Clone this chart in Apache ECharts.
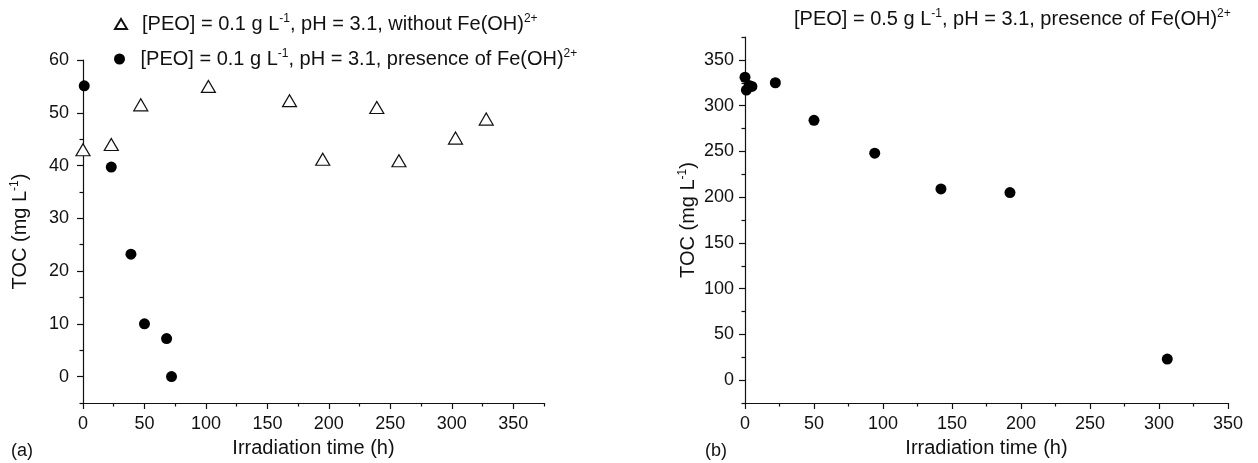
<!DOCTYPE html>
<html>
<head>
<meta charset="utf-8">
<script src="https://cdn.jsdelivr.net/npm/echarts@6/dist/echarts.min.js"></script>
<style>
    html, body { margin: 0; padding: 0; background: #fff; }
    #chart { width: 1258px; height: 463px; }
</style>
</head>
<body>
<div id="chart"></div>
<script>
    // panel (a): [PEO] = 0.1 g/L
    const timeWithout = [0, 23, 47, 102, 168, 195, 239, 257, 303, 328]
    const tocWithout = [43, 44, 51.5, 55, 52.3, 41.2, 51, 40.9, 45.2, 48.8]
    const timeWith = [1, 23, 39, 50, 68, 72]
    const tocWith = [55.1, 39.7, 23.2, 10, 7.2, 0]

    // panel (b): [PEO] = 0.5 g/L
    const timeB = [0, 1, 3, 5, 22, 50, 94, 142, 192, 306]
    const tocB = [331, 317, 322, 321, 325, 284, 248, 209, 205, 23]

    // ticks
    const xMajor = [0, 50, 100, 150, 200, 250, 300, 350]
    const xMinorA = [25, 75, 125, 175, 225, 275, 325, 375]
    const xMinorB = [25, 75, 125, 175, 225, 275, 325]
    const yMajorA = [0, 10, 20, 30, 40, 50, 60]
    const yMinorA = [-5, 5, 15, 25, 35, 45, 55]
    const yMajorB = [0, 50, 100, 150, 200, 250, 300, 350]
    const yMinorB = [-25, 25, 75, 125, 175, 225, 275, 325, 375]

    const nameWithout = 'without'
    const nameWith = 'with01'
    const legendText = {
        without: '[PEO] = 0.1 g L{sup|-1}, pH = 3.1, without Fe(OH){sup|2+}',
        with01: '[PEO] = 0.1 g L{sup|-1}, pH = 3.1, presence of Fe(OH){sup|2+}'
    }

    const pairs = (xs, ys) => xs.map((x, i) => [x, ys[i]])

    const font = '"Liberation Sans", Arial, sans-serif'
    const black = '#111'
    const rich = {
        sup: { fontSize: 12, fontFamily: font, color: black, padding: [0, 0, 10, 0] }
    }

    function xAxisBase (gridIndex, max, minors) {
        return [{
            type: 'value', gridIndex: gridIndex, position: 'bottom', min: 0, max: max,
            name: 'Irradiation time (h)', nameLocation: 'middle', nameGap: 35,
            nameTextStyle: { fontSize: 20, fontFamily: font, color: black },
            axisLine: { onZero: false, lineStyle: { color: black, width: 1.2 } },
            axisTick: { show: true, inside: false, length: 6, customValues: xMajor, lineStyle: { color: black, width: 1.2 } },
            axisLabel: { fontSize: 18, fontFamily: font, color: black, margin: 12, customValues: xMajor },
            splitLine: { show: false }
        }, {
            type: 'value', gridIndex: gridIndex, position: 'bottom', min: 0, max: max,
            axisLine: { show: false, onZero: false },
            axisTick: { show: true, inside: false, length: 3.5, customValues: minors, lineStyle: { color: black, width: 1.2 } },
            axisLabel: { show: false },
            splitLine: { show: false }
        }]
    }

    function yAxisBase (gridIndex, min, max, majors, minors, gap, margin) {
        return [{
            type: 'value', gridIndex: gridIndex, position: 'left', min: min, max: max,
            name: 'TOC (mg L{sup|-1})', nameLocation: 'middle', nameGap: gap, nameRotate: 90,
            nameTextStyle: { fontSize: 20, fontFamily: font, color: black, rich: rich },
            axisLine: { onZero: false, lineStyle: { color: black, width: 1.2 } },
            axisTick: { show: true, inside: false, length: 6, customValues: majors, lineStyle: { color: black, width: 1.2 } },
            axisLabel: { fontSize: 18, fontFamily: font, color: black, margin: margin, customValues: majors },
            splitLine: { show: false }
        }, {
            type: 'value', gridIndex: gridIndex, position: 'left', min: min, max: max,
            axisLine: { show: false, onZero: false },
            axisTick: { show: true, inside: false, length: 3.5, customValues: minors, lineStyle: { color: black, width: 1.2 } },
            axisLabel: { show: false },
            splitLine: { show: false }
        }]
    }

    const chart = echarts.init(document.getElementById('chart'))

    chart.setOption({
        animation: false,
        backgroundColor: '#fff',
        grid: [
            { left: 83, top: 60, width: 461, height: 343 },
            { left: 745, top: 37, width: 483, height: 366 }
        ],
        xAxis: [].concat(xAxisBase(0, 375, xMinorA), xAxisBase(1, 350, xMinorB)),
        yAxis: [].concat(
            yAxisBase(0, -5, 60, yMajorA, yMinorA, 52, 14),
            yAxisBase(1, -25, 375, yMajorB, yMinorB, 46, 11)
        ),
        legend: [{
            data: [nameWithout], left: 114, top: 13, padding: 0,
            itemWidth: 12, itemHeight: 10,
            formatter: name => legendText[name],
            textStyle: { fontSize: 20, fontFamily: font, color: black, rich: rich, padding: [0, 0, 0, 10] }
        }, {
            data: [nameWith], left: 114, top: 48, padding: 0,
            itemWidth: 12, itemHeight: 11,
            formatter: name => legendText[name],
            textStyle: { fontSize: 20, fontFamily: font, color: black, rich: rich, padding: [0, 0, 0, 10] }
        }],
        graphic: [
            { type: 'text', left: 794, top: 8, style: {
                text: '[PEO] = 0.5 g L{sup|-1}, pH = 3.1, presence of Fe(OH){sup|2+}',
                font: '20px ' + font, fill: black, rich: rich } },
            { type: 'text', left: 11, top: 442, style: { text: '(a)', font: '18px ' + font, fill: black } },
            { type: 'text', left: 705, top: 442, style: { text: '(b)', font: '18px ' + font, fill: black } }
        ],
        series: [{
            name: nameWithout, type: 'scatter', xAxisIndex: 0, yAxisIndex: 0,
            symbol: 'triangle', symbolSize: [14, 12],
            itemStyle: { color: '#fff', borderColor: black, borderWidth: 1.2, opacity: 1 },
            data: pairs(timeWithout, tocWithout)
        }, {
            name: nameWith, type: 'scatter', xAxisIndex: 0, yAxisIndex: 0,
            symbol: 'circle', symbolSize: 11,
            itemStyle: { color: '#000', opacity: 1 },
            data: pairs(timeWith, tocWith)
        }, {
            name: 'b', type: 'scatter', xAxisIndex: 2, yAxisIndex: 2,
            symbol: 'circle', symbolSize: 11,
            itemStyle: { color: '#000', opacity: 1 },
            data: pairs(timeB, tocB)
        }]
    })
</script>
</body>
</html>
